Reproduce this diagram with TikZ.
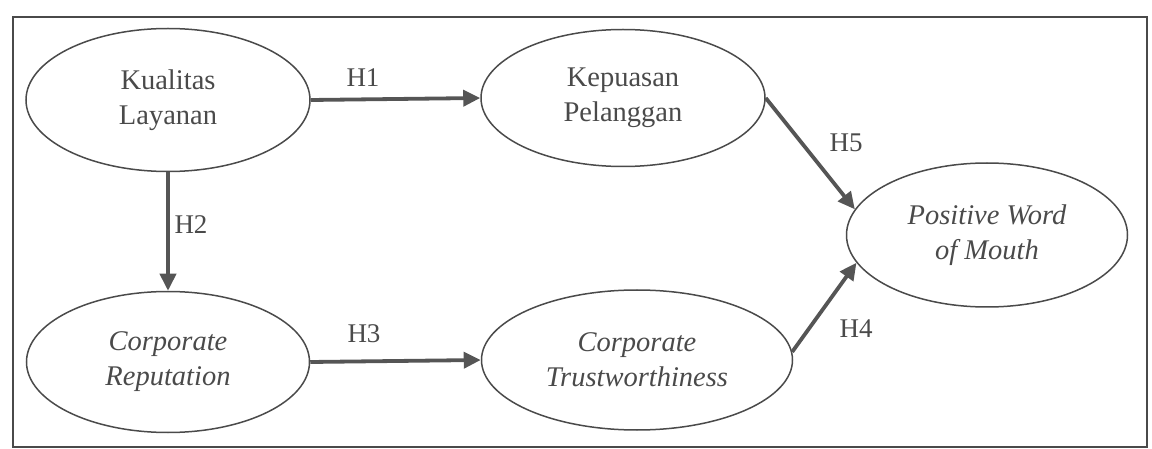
\documentclass[tikz,border=0pt]{standalone}
\usepackage{fontspec}
\setmainfont{Liberation Serif}
\usetikzlibrary{shapes.geometric,arrows.meta}
\definecolor{ink}{HTML}{4A4A4A}
\definecolor{edge}{HTML}{555555}
\begin{document}
\begin{tikzpicture}[x=1pt,y=-1pt,
  construct/.style={ellipse,draw=ink,line width=1.5pt,inner sep=0pt,
    align=center,text=ink,font=\fontsize{28.5}{35}\selectfont},
  path/.style={draw=edge,line width=3.8pt,
    -{Triangle[length=17pt,width=16pt]}},
  hyp/.style={text=ink,font=\fontsize{27}{32}\selectfont,inner sep=0pt}]
\useasboundingbox (0,0) rectangle (1152,449);
\draw[line width=1.8pt,draw=ink] (13,17) rectangle (1147,447);

% constructs
\node[construct,minimum width=284pt,minimum height=143pt] (kl) at (168,100)
  {Kualitas\\Layanan};
\node[construct,minimum width=284pt,minimum height=137pt] (kp) at (623,98)
  {Kepuasan\\Pelanggan};
\node[construct,minimum width=283pt,minimum height=141pt] (cr) at (168,362)
  {\itshape Corporate\\\itshape Reputation};
\node[construct,minimum width=311pt,minimum height=140pt] (ct) at (637,360)
  {\itshape Corporate\\\itshape Trustworthiness};
\node[construct,minimum width=281pt,minimum height=144pt] (pw) at (987,235)
  {\itshape Positive Word\\\itshape of Mouth};

% hypothesised paths
\draw[path] (kl.east) -- (kp.west);
\draw[path] (kl.south) -- (cr.north);
\draw[path] (cr.east) -- (ct.west);
\draw[path] (kp.east) -- (pw.169);
\draw[path] (ct.3) -- (pw.192);

% path labels
\node[hyp] (h1) at (363,78) {H1};
\node[hyp] (h2) at (191,225) {H2};
\node[hyp] (h3) at (364,334) {H3};
\node[hyp] (h5) at (846,143) {H5};
\node[hyp] (h4) at (856,329) {H4};
\end{tikzpicture}
\end{document}
